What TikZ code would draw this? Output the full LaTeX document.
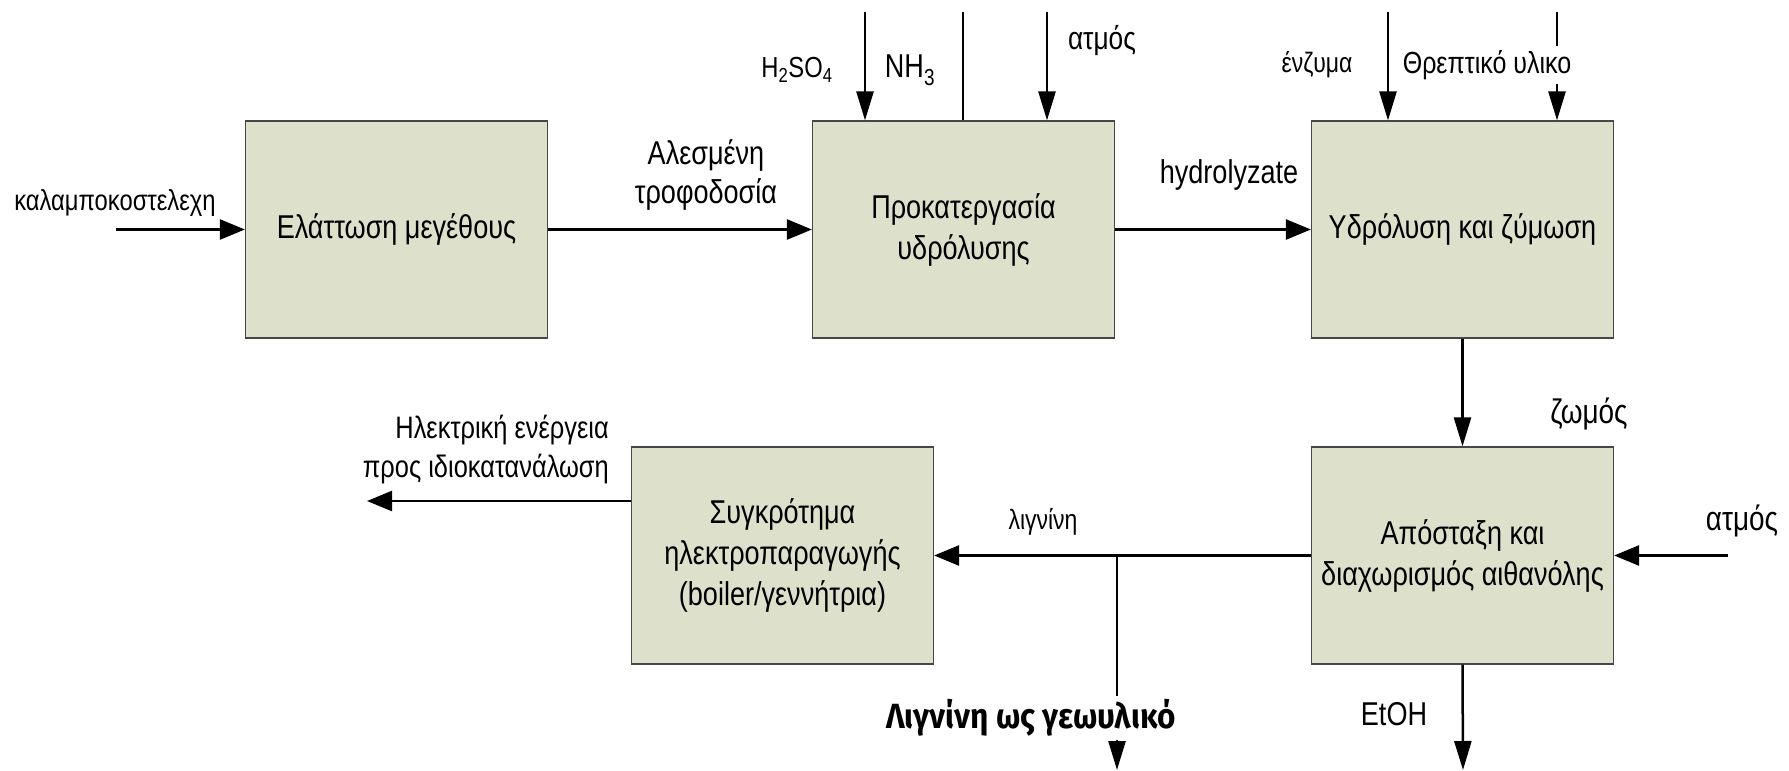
\documentclass[tikz,border=0pt]{standalone}
\usepackage{fontspec}
\setmainfont{Liberation Sans}[FakeStretch=0.82]
\newfontfamily\boldlabel{Fira Sans}[FakeStretch=0.9]
\usetikzlibrary{arrows.meta}
\definecolor{boxfill}{RGB}{221,225,203}
\definecolor{boxline}{RGB}{70,70,70}
\tikzset{
  proc/.style={draw=boxline, line width=1.2pt, fill=boxfill, minimum width=302pt, minimum height=217pt, align=center, inner sep=0pt, font=\fontsize{33}{41}\selectfont},
  hflow/.style={line width=2.5pt, -{Triangle[length=25pt,width=20pt]}},
  vflow/.style={line width=2.5pt, -{Triangle[length=29pt,width=17pt]}},
  plain/.style={line width=2.5pt},
  lbl/.style={inner sep=1pt, align=center, font=\fontsize{32}{39}\selectfont},
  slbl/.style={inner sep=1pt, align=center, font=\fontsize{29}{36}\selectfont},
}
\begin{document}
\begin{tikzpicture}[x=1pt,y=-1pt]
\useasboundingbox (0,0) rectangle (1789,771);
% boxes
\node[proc] (b1) at (396.5,229.5) {Ελάττωση μεγέθους};
\node[proc] (b2) at (963.5,229.5) {Προκατεργασία\\υδρόλυσης};
\node[proc] (b3) at (1462.5,229.5) {Υδρόλυση και ζύμωση};
\node[proc] (b4) at (1462.5,555.5) {Απόσταξη και\\διαχωρισμός αιθανόλης};
\node[proc] (b5) at (782.5,555.5) {Συγκρότημα\\ηλεκτροπαραγωγής\\(boiler/γεννήτρια)};
% coordinates
\coordinate (in1) at (116,229.5);
\coordinate (t1) at (865,12);
\coordinate (t2) at (963,12);
\coordinate (t3) at (1047,12);
\coordinate (t4) at (1388,12);
\coordinate (t5) at (1557,12);
\coordinate (s2) at (1728,555.5);
\coordinate (j) at (1117,555.5);
\coordinate (lo) at (1117,770);
\coordinate (eo) at (1463,770);
\coordinate (e1) at (367,501);
% connectors
\draw[hflow] (in1) -- (b1.west);
\draw[hflow] (b1.east) -- (b2.west);
\draw[hflow] (b2.east) -- (b3.west);
\draw[vflow] (t1) -- (t1 |- b2.north);
\draw[plain] (t2) -- (t2 |- b2.north);
\draw[vflow] (t3) -- (t3 |- b2.north);
\draw[vflow] (t4) -- (t4 |- b3.north);
\draw[vflow] (t5) -- (t5 |- b3.north);
\draw[vflow] (b3.south) -- (b4.north);
\draw[hflow] (s2) -- (b4.east);
\draw[hflow] (b4.west) -- (b5.east);
\draw[vflow] (j) -- (lo);
\draw[vflow] (b4.south) -- (eo);
\draw[hflow] (b5.west |- e1) -- (e1);
% labels
\node[slbl] (l1) at (115,203) {καλαμποκοστελεχη};
\node[lbl, font=\fontsize{33}{39}\selectfont] (l2) at (706,175) {Αλεσμένη\\τροφοδοσία};
\node[lbl, font=\fontsize{33}{39}\selectfont] (l3) at (1229,175) {hydrolyzate};
\node[lbl, font=\fontsize{29}{34}\selectfont] (l4) at (797,70) {H\textsubscript{2}SO\textsubscript{4}};
\node[lbl, font=\fontsize{33}{38}\selectfont] (l5) at (910,70) {NH\textsubscript{3}};
\node[lbl, font=\fontsize{32}{38}\selectfont] (l6) at (1102,41) {ατμός};
\node[slbl, font=\fontsize{28}{34}\selectfont] (l7) at (1317,65) {ένζυμα};
\node[slbl, font=\fontsize{30.5}{36}\selectfont, fill=white, inner sep=4pt] (l8) at (1487,65) {Θρεπτικό υλικο};
\node[lbl, font=\fontsize{34}{40}\selectfont] (l9) at (1589,414) {ζωμός};
\node[lbl, font=\fontsize{34}{40}\selectfont] (l10) at (1742,521) {ατμός};
\node[slbl, font=\fontsize{28}{34}\selectfont] (l11) at (1043,522) {λιγνίνη};
\node[lbl, font=\fontsize{31}{39}\selectfont, align=right, anchor=east] (l12) at (610,450) {Ηλεκτρική ενέργεια\\προς ιδιοκατανάλωση};
\node[inner sep=3pt, fill=white, font=\fontsize{35}{40}\selectfont\boldlabel\bfseries] (l13) at (1031,718) {Λιγνίνη ως γεωυλικό};
\node[lbl, font=\fontsize{33}{38}\selectfont] (l14) at (1394,714) {EtOH};
\end{tikzpicture}
\end{document}
